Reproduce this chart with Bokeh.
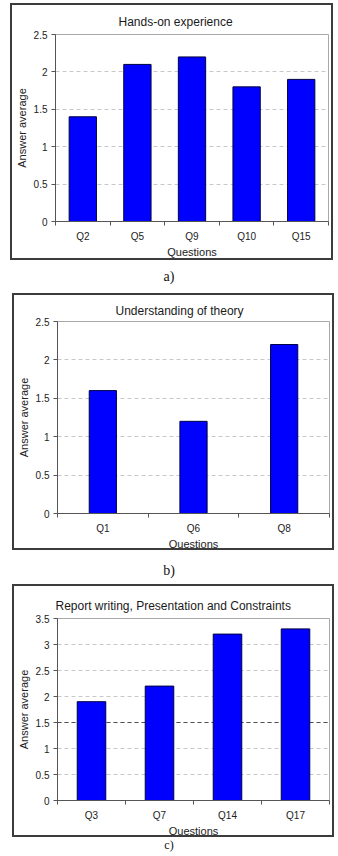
from bokeh.plotting import figure
from bokeh.models import Range1d, FixedTicker, Span, Div, ColumnDataSource
from bokeh.layouts import column
from bokeh.embed import file_html
from bokeh.resources import INLINE

# ---------------- data ----------------
a_title = "Hands-on experience"
a_questions = ["Q2", "Q5", "Q9", "Q10", "Q15"]
a_values = [1.4, 2.1, 2.2, 1.8, 1.9]
a_yticks = [0, 0.5, 1, 1.5, 2, 2.5]

b_title = "Understanding of theory"
b_questions = ["Q1", "Q6", "Q8"]
b_values = [1.6, 1.2, 2.2]
b_yticks = [0, 0.5, 1, 1.5, 2, 2.5]

c_title = "Report writing, Presentation and Constraints"
c_questions = ["Q3", "Q7", "Q14", "Q17"]
c_values = [1.9, 2.2, 3.2, 3.3]
c_yticks = [0, 0.5, 1, 1.5, 2, 2.5, 3, 3.5]
c_reference = 1.5

x_label = "Questions"
y_label = "Answer average"
captions = ["a)", "b)", "c)"]

FONT = "Liberation Sans"
SERIF = "Liberation Serif"


def make_panel(title, questions, values, yticks, bar_width, width, height,
               borders, title_standoff, title_offset, margin, reference=None):
    n = len(questions)
    centers = [i + 0.5 for i in range(n)]
    src = ColumnDataSource(dict(x=centers, top=values, q=questions))
    p = figure(width=width, height=height,
               x_range=Range1d(0, n), y_range=Range1d(yticks[0], yticks[-1]),
               output_backend="svg", toolbar_location=None,
               min_border_left=borders[0], min_border_right=borders[1],
               min_border_top=borders[2], min_border_bottom=borders[3],
               background_fill_color="white", border_fill_color="white",
               styles={"border": "2px solid #3c3c3c"}, margin=margin)
    p.title.text = title
    p.title.align = "left"
    p.title.offset = title_offset
    p.title.standoff = title_standoff
    p.title.text_font = FONT
    p.title.text_font_size = "12px"
    p.title.text_font_style = "normal"
    p.title.text_color = "#1a1a1a"

    p.outline_line_color = "#a8a8a8"
    p.outline_line_width = 1

    p.xgrid.grid_line_color = None
    p.ygrid.grid_line_color = "#c8c8c8"
    p.ygrid.grid_line_dash = "4 3"
    p.ygrid.ticker = FixedTicker(ticks=yticks)

    if reference is not None:
        sp = Span(location=reference, dimension="width", line_color="#505050",
                  line_dash="4 3", line_width=1, level="underlay")
        p.add_layout(sp)

    p.vbar(x="x", top="top", width=bar_width, source=src,
           fill_color="#0000ff", line_color="#000040", line_width=1)

    xa = p.xaxis[0]
    xa.ticker = FixedTicker(ticks=centers, minor_ticks=list(range(n + 1)))
    xa.major_label_overrides = {c: q for c, q in zip(centers, questions)}
    xa.major_tick_line_color = None
    xa.major_tick_out = 4
    xa.major_tick_in = 0
    xa.minor_tick_line_color = "#555555"
    xa.minor_tick_out = 4
    xa.minor_tick_in = 0
    xa.axis_line_color = "#555555"
    xa.major_label_text_font = FONT
    xa.major_label_text_font_size = "10px"
    xa.major_label_text_color = "#222222"
    xa.major_label_standoff = 5
    xa.axis_label = x_label
    xa.axis_label_text_font = FONT
    xa.axis_label_text_font_size = "11px"
    xa.axis_label_text_font_style = "normal"
    xa.axis_label_text_color = "#222222"
    xa.axis_label_standoff = 1

    ya = p.yaxis[0]
    ya.ticker = FixedTicker(ticks=yticks)
    ya.major_label_overrides = {t: f"{t:g}" for t in yticks}
    ya.major_tick_line_color = "#555555"
    ya.major_tick_out = 4
    ya.major_tick_in = 0
    ya.minor_tick_line_color = None
    ya.axis_line_color = "#555555"
    ya.major_label_text_font = FONT
    ya.major_label_text_font_size = "10px"
    ya.major_label_text_color = "#222222"
    ya.major_label_standoff = 4
    ya.axis_label = y_label
    ya.axis_label_text_font = FONT
    ya.axis_label_text_font_size = "11px"
    ya.axis_label_text_font_style = "normal"
    ya.axis_label_text_color = "#222222"
    ya.axis_label_standoff = 3
    return p


def caption(text, margin, height, size=14):
    return Div(text=f'<div style="width:338px;text-align:center;font-family:{SERIF};'
                    f'font-size:{size}px;line-height:{height}px;color:#111">{text}</div>',
               width=338, height=height, margin=margin)


pa = make_panel(a_title, a_questions, a_values, a_yticks, 0.5, 323, 257,
                (40, 6, 29, 41), 12, 63, (3, 0, 0, 10))
pb = make_panel(b_title, b_questions, b_values, b_yticks, 0.3, 322, 257,
                (38, 6, 26, 36), 7, 58, (6, 0, 0, 12))
pc = make_panel(c_title, c_questions, c_values, c_yticks, 0.42, 322, 253,
                (38, 7, 32, 35), 11, -2, (3, 0, 0, 12), reference=c_reference)

layout = column(pa, caption(captions[0], (7, 0, 0, 0), 20),
                pb, caption(captions[1], (11, 0, 0, 0), 20),
                pc, caption(captions[2], (0, 0, 0, 0), 15, size=12),
                spacing=0)

open("out.html", "w").write(file_html(layout, INLINE))
